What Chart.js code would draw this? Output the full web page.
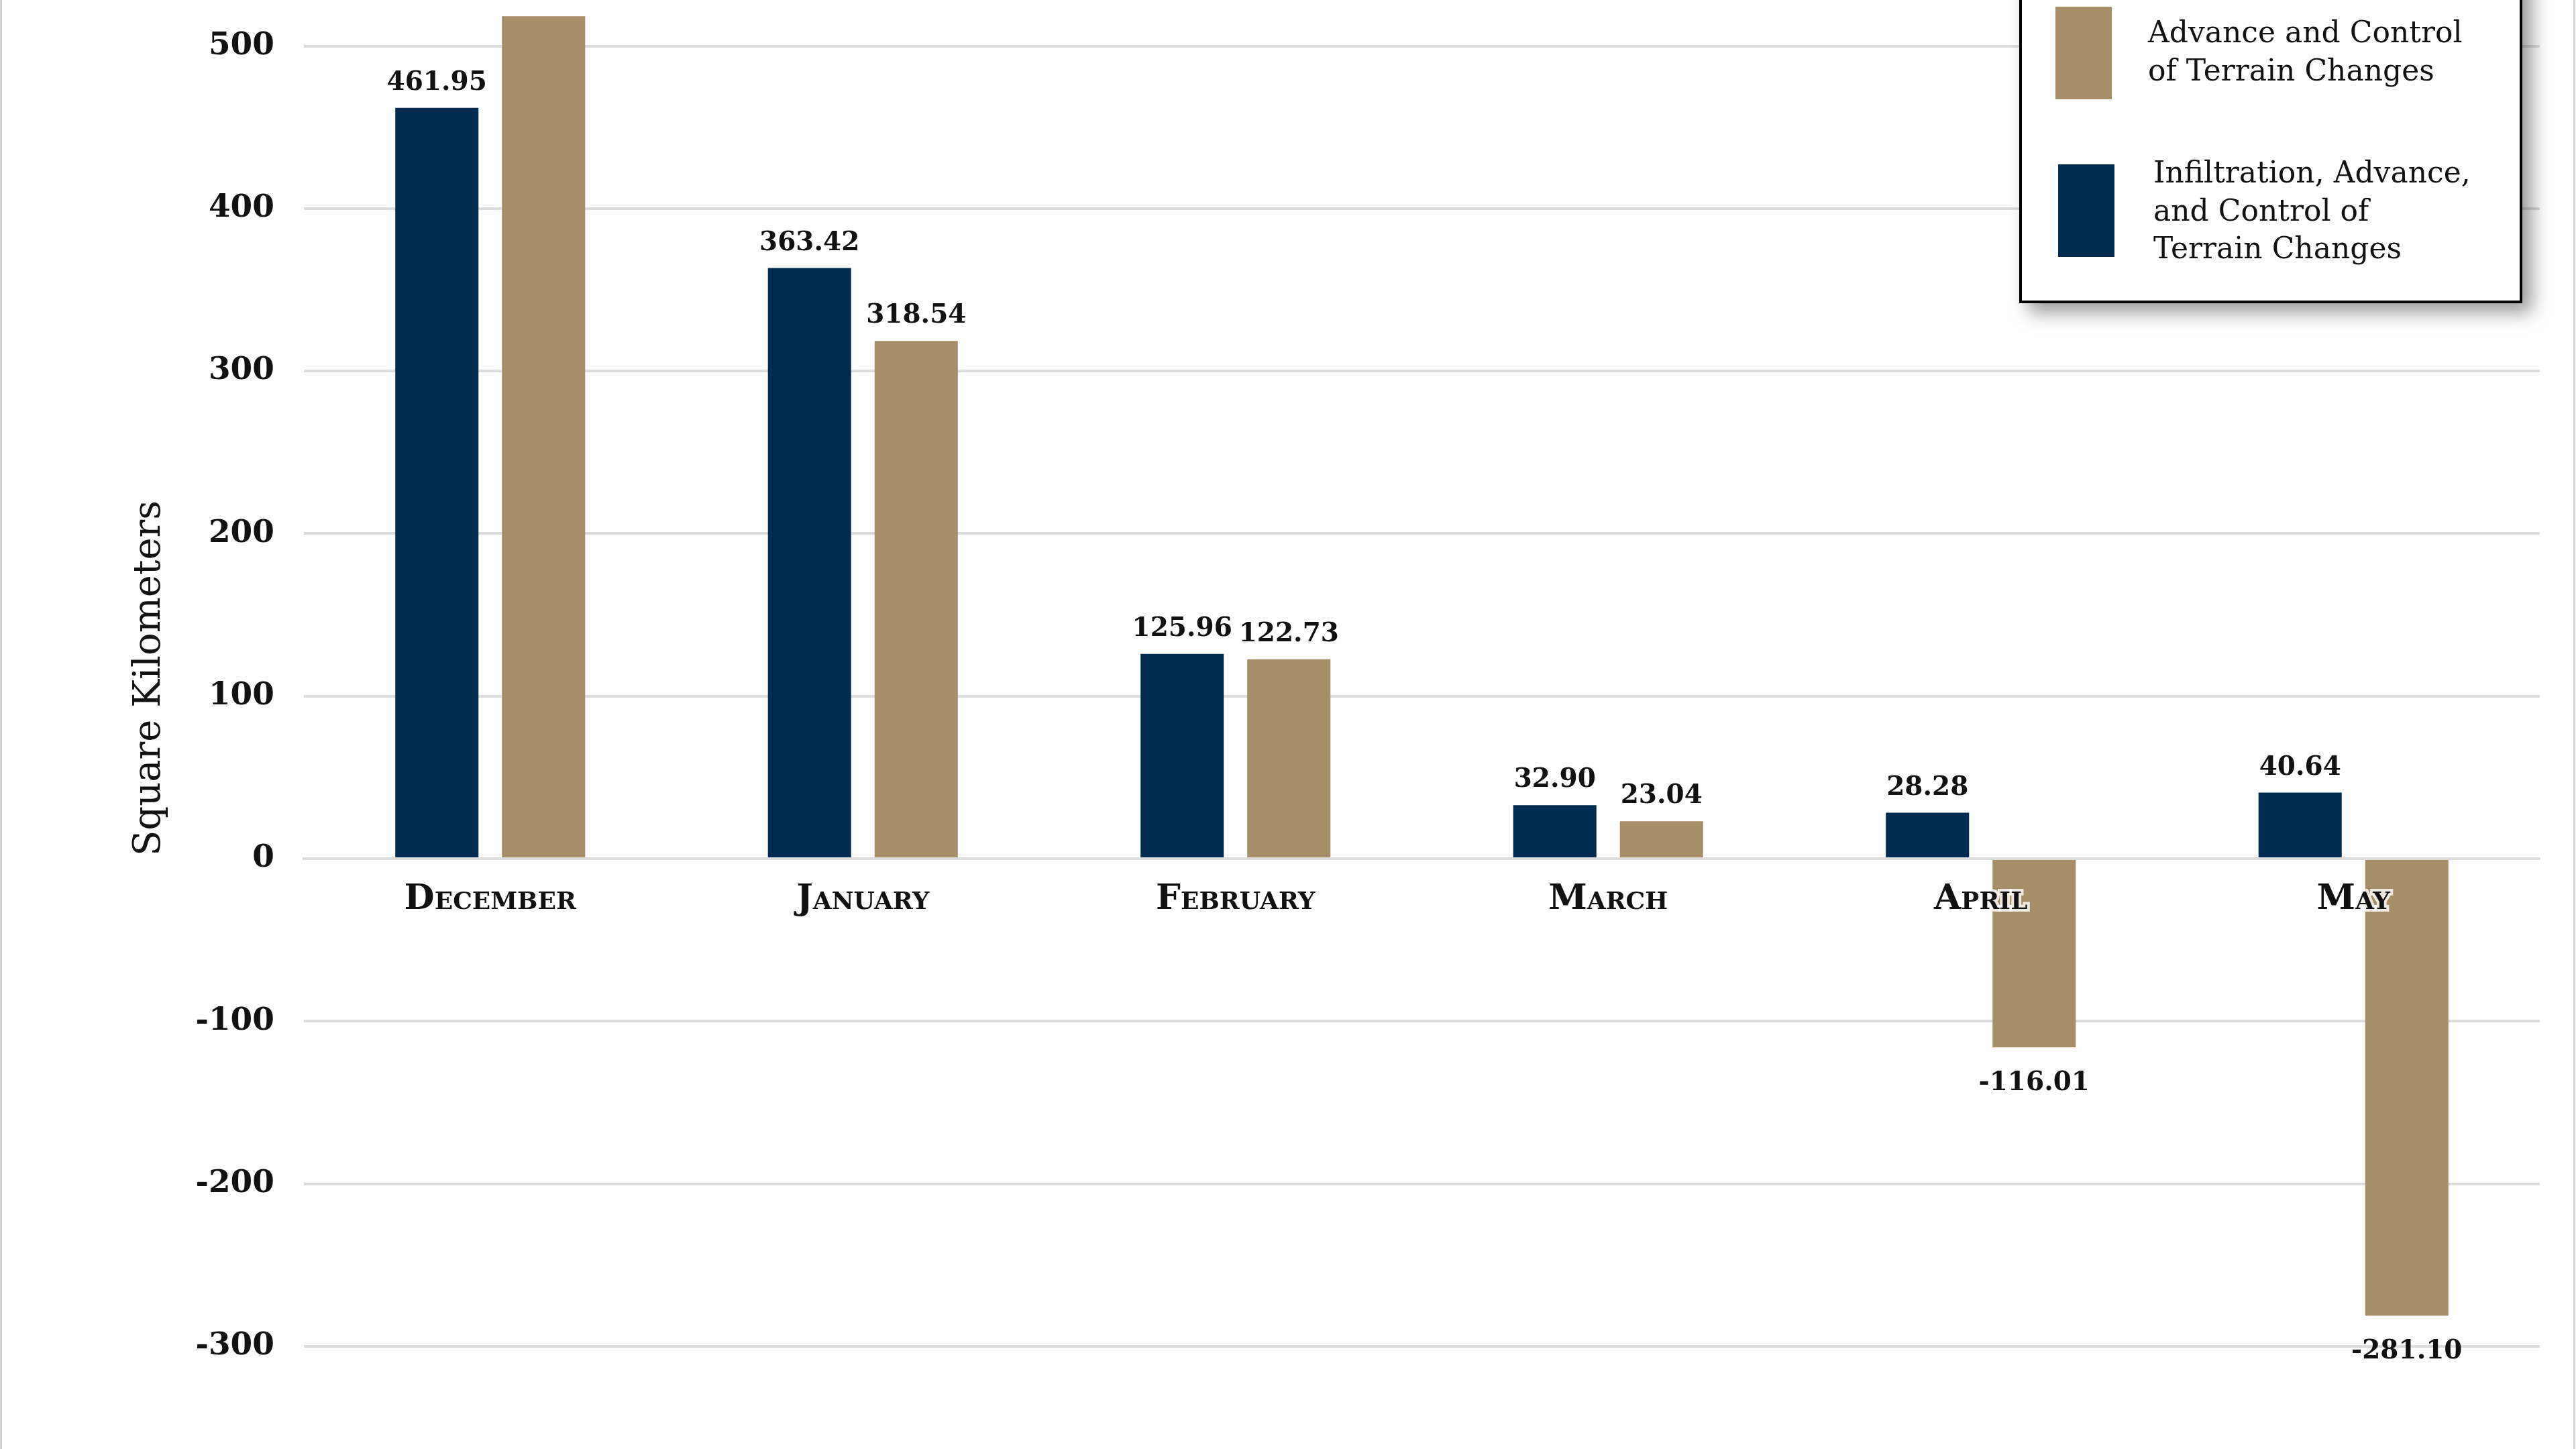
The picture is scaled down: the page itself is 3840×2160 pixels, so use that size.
<!DOCTYPE html>
<html>
<head>
<meta charset="utf-8">
<script src="https://cdn.jsdelivr.net/npm/chart.js@4"></script>
<style>
  html, body { margin: 0; padding: 0; background: #ffffff; }
  #wrap { width: 3840px; height: 2160px; position: relative; }
</style>
</head>
<body>
<div id="wrap"><canvas id="c" width="3840" height="2160"></canvas></div>
<script>
// ---- data ----
const months = ['December', 'January', 'February', 'March', 'April', 'May'];
const infiltrationValues = [461.95, 363.42, 125.96, 32.90, 28.28, 40.64];
const advanceValues = [518.30, 318.54, 122.73, 23.04, -116.01, -281.10];
const seriesLabels = [
  'Infiltration, Advance, and Control of Terrain Changes',
  'Advance and Control of Terrain Changes'
];
const legendLines = [
  ['Advance and Control', 'of Terrain Changes'],
  ['Infiltration, Advance,', 'and Control of', 'Terrain Changes']
];
const yTickValues = [-300, -200, -100, 0, 100, 200, 300, 400, 500];
const yAxisTitle = 'Square Kilometers';

const BLUE = '#022C4F';
const TAN = '#A68F68';
const GRID = '#dcdcdc';
const SERIF = '"DejaVu Serif"';

const sideLines = {
  id: 'sideLines',
  beforeDraw(chart) {
    const ctx = chart.ctx;
    ctx.save();
    ctx.fillStyle = '#d4d4d4';
    ctx.fillRect(0, 0, 3, chart.height);
    ctx.fillRect(chart.width - 4, 0, 3, chart.height);
    ctx.restore();
  }
};

const valueLabels = {
  id: 'valueLabels',
  afterDatasetsDraw(chart) {
    const ctx = chart.ctx;
    ctx.save();
    ctx.font = 'bold 39px ' + SERIF;
    ctx.fillStyle = '#111111';
    ctx.textAlign = 'center';
    ctx.textBaseline = 'alphabetic';
    chart.data.datasets.forEach((ds, di) => {
      const meta = chart.getDatasetMeta(di);
      meta.data.forEach((bar, i) => {
        const v = ds.data[i];
        const y = v >= 0 ? bar.y - 27 : bar.y + 64;
        ctx.fillText(v.toFixed(2), bar.x, y);
      });
    });
    ctx.restore();
  }
};

const boxLegend = {
  id: 'boxLegend',
  afterDraw(chart) {
    const ctx = chart.ctx;
    const ds = chart.data.datasets;
    ctx.save();
    ctx.shadowColor = 'rgba(0,0,0,0.4)';
    ctx.shadowBlur = 26;
    ctx.shadowOffsetX = 14;
    ctx.shadowOffsetY = 14;
    ctx.fillStyle = '#ffffff';
    ctx.fillRect(3010, -40, 750, 492);
    ctx.shadowColor = 'transparent';
    ctx.shadowBlur = 0;
    ctx.shadowOffsetX = 0;
    ctx.shadowOffsetY = 0;
    ctx.lineWidth = 4;
    ctx.strokeStyle = '#000000';
    ctx.strokeRect(3012, -40, 746, 490);

    const entries = [
      { color: ds[1].backgroundColor, sx: 3064, sy: 10, tx: 3202, ty: 63, lines: legendLines[0] },
      { color: ds[0].backgroundColor, sx: 3068, sy: 245, tx: 3210, ty: 272, lines: legendLines[1] }
    ];
    ctx.font = '44px ' + SERIF;
    ctx.textAlign = 'left';
    ctx.textBaseline = 'alphabetic';
    entries.forEach(e => {
      ctx.fillStyle = e.color;
      ctx.fillRect(e.sx, e.sy, 84, 138);
      ctx.fillStyle = '#111111';
      e.lines.forEach((t, k) => ctx.fillText(t, e.tx, e.ty + k * 56.5));
    });
    ctx.restore();
  }
};

new Chart(document.getElementById('c').getContext('2d'), {
  type: 'bar',
  data: {
    labels: months,
    datasets: [
      { label: seriesLabels[0], data: infiltrationValues, backgroundColor: BLUE,
        categoryPercentage: 0.5726, barPercentage: 0.78 },
      { label: seriesLabels[1], data: advanceValues, backgroundColor: TAN,
        categoryPercentage: 0.5726, barPercentage: 0.78 }
    ]
  },
  options: {
    responsive: false,
    animation: false,
    devicePixelRatio: 1,
    layout: { padding: { left: 0, right: 54, top: 0, bottom: 138 } },
    plugins: { legend: { display: false }, tooltip: { enabled: false } },
    scales: {
      x: {
        position: { y: 0 },
        offset: true,
        grid: { display: false, drawTicks: false },
        border: { display: true, color: GRID, width: 4 },
        ticks: {
          z: 1,
          padding: 30,
          color: '#111111',
          autoSkip: false,
          maxRotation: 0,
          font: { family: SERIF, size: 52, weight: 'small-caps bold' },
          textStrokeColor: 'rgba(255,255,255,0.8)',
          textStrokeWidth: 8
        },
        afterFit(s) { s.paddingLeft = 0; s.paddingRight = 0; }
      },
      y: {
        min: -306.2,
        max: 528.3,
        afterBuildTicks(s) { s.ticks = yTickValues.map(v => ({ value: v })); },
        grid: { color: GRID, lineWidth: 4, drawTicks: false },
        border: { display: false },
        ticks: {
          padding: 44,
          color: '#111111',
          font: { family: SERIF, size: 47, weight: 'bold' },
          callback: v => String(v)
        },
        title: {
          display: true,
          text: yAxisTitle,
          color: '#111111',
          font: { family: SERIF, size: 56 },
          padding: { top: 190, bottom: 0 }
        },
        afterFit(s) { s.width = 453; s.paddingTop = 0; s.paddingBottom = 0; }
      }
    }
  },
  plugins: [sideLines, valueLabels, boxLegend]
});
</script>
</body>
</html>
